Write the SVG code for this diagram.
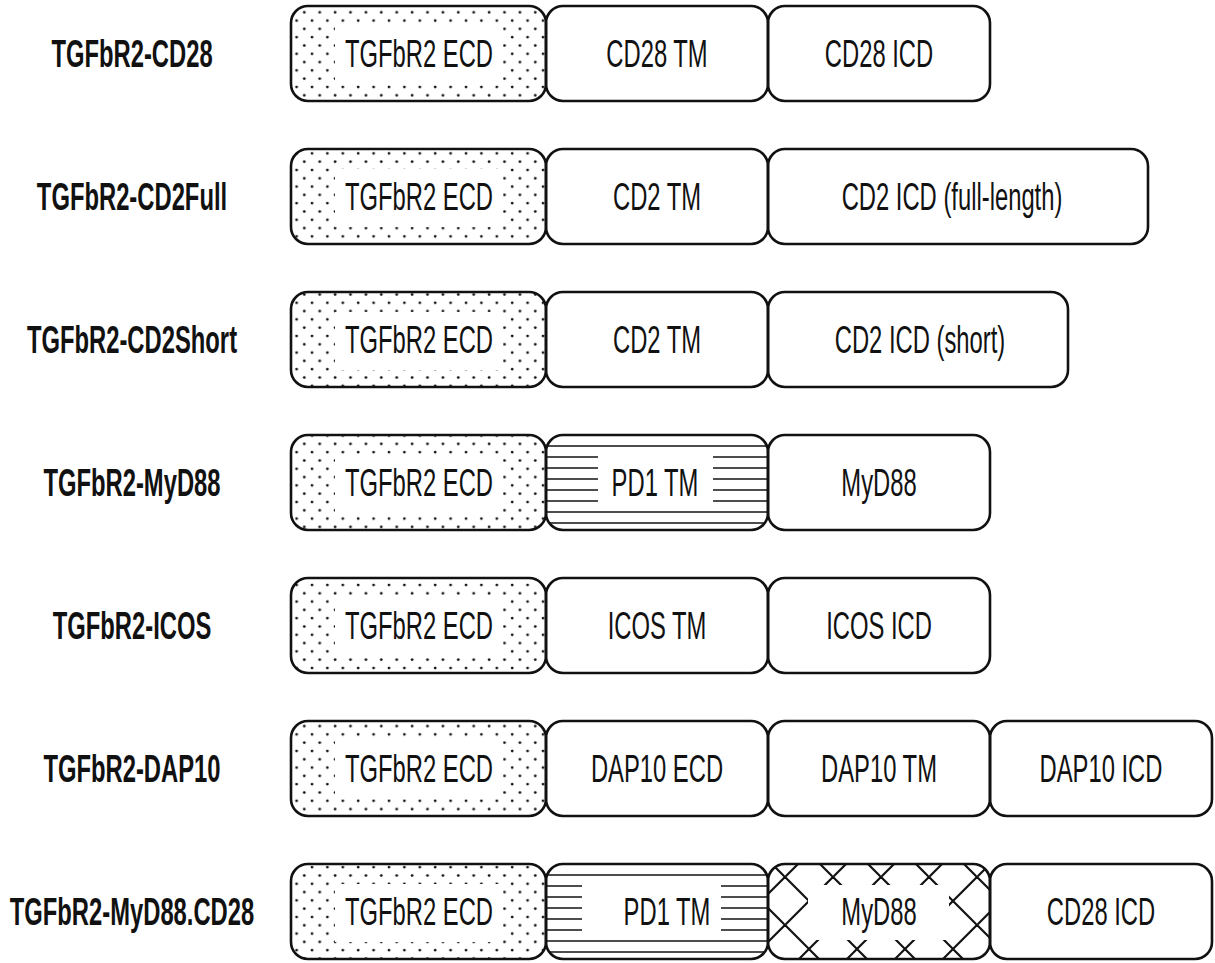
<svg xmlns="http://www.w3.org/2000/svg" width="1215" height="963" viewBox="0 0 1215 963">
<defs>
<pattern id="dots" patternUnits="userSpaceOnUse" width="15.4" height="16.6">
<circle cx="4" cy="4" r="1.4" fill="#111"/>
<circle cx="11.7" cy="12.3" r="1.4" fill="#111"/>
</pattern>
<pattern id="hlines" patternUnits="userSpaceOnUse" width="20" height="11">
<line x1="0" y1="6" x2="20" y2="6" stroke="#111" stroke-width="1.5"/>
</pattern>
<pattern id="cross" patternUnits="userSpaceOnUse" x="785" y="877" width="48" height="48">
<line x1="-2" y1="-2" x2="50" y2="50" stroke="#111" stroke-width="2.2"/>
<line x1="50" y1="-2" x2="-2" y2="50" stroke="#111" stroke-width="2.2"/>
</pattern>
</defs>
<style>
.box{fill:none;stroke:#111;stroke-width:2.6}
.clear{fill:#fff;stroke:none}
.t{font-family:"Liberation Sans",Arial,sans-serif;font-size:39px;fill:#111;text-anchor:middle}
.lbl{font-family:"Liberation Sans",Arial,sans-serif;font-size:39px;font-weight:bold;fill:#111;text-anchor:middle}
</style>
<rect width="1215" height="963" fill="#fff"/>
<g id="connectors"/>

<!-- Row 1 -->
<g id="row1-label"><text class="lbl" transform="translate(132,67) scale(0.61,1)">TGFbR2-CD28</text></g>
<g id="row1-ecd"><rect x="291" y="6" width="255" height="95" rx="17" fill="url(#dots)"/><rect class="clear" x="335" y="26" width="168" height="58"/><text class="t" transform="translate(419,67) scale(0.61,1)">TGFbR2 ECD</text><rect class="box" x="291" y="6" width="255" height="95" rx="17"/></g>
<g id="row1-tm"><rect class="box" x="546" y="6" width="222" height="95" rx="17"/><text class="t" transform="translate(657,67) scale(0.61,1)">CD28 TM</text></g>
<g id="row1-icd"><rect class="box" x="768" y="6" width="222" height="95" rx="17"/><text class="t" transform="translate(879,67) scale(0.61,1)">CD28 ICD</text></g>

<!-- Row 2 -->
<g id="row2-label"><text class="lbl" transform="translate(132,210) scale(0.61,1)">TGFbR2-CD2Full</text></g>
<g id="row2-ecd"><rect x="291" y="149" width="255" height="95" rx="17" fill="url(#dots)"/><rect class="clear" x="335" y="169" width="168" height="58"/><text class="t" transform="translate(419,210) scale(0.61,1)">TGFbR2 ECD</text><rect class="box" x="291" y="149" width="255" height="95" rx="17"/></g>
<g id="row2-tm"><rect class="box" x="546" y="149" width="222" height="95" rx="17"/><text class="t" transform="translate(657,210) scale(0.61,1)">CD2 TM</text></g>
<g id="row2-icd"><rect class="box" x="768" y="149" width="380" height="95" rx="17"/><text class="t" transform="translate(952,210) scale(0.61,1)">CD2 ICD (full-length)</text></g>

<!-- Row 3 -->
<g id="row3-label"><text class="lbl" transform="translate(132,353) scale(0.61,1)">TGFbR2-CD2Short</text></g>
<g id="row3-ecd"><rect x="291" y="292" width="255" height="95" rx="17" fill="url(#dots)"/><rect class="clear" x="335" y="312" width="168" height="58"/><text class="t" transform="translate(419,353) scale(0.61,1)">TGFbR2 ECD</text><rect class="box" x="291" y="292" width="255" height="95" rx="17"/></g>
<g id="row3-tm"><rect class="box" x="546" y="292" width="222" height="95" rx="17"/><text class="t" transform="translate(657,353) scale(0.61,1)">CD2 TM</text></g>
<g id="row3-icd"><rect class="box" x="768" y="292" width="300" height="95" rx="17"/><text class="t" transform="translate(920,353) scale(0.61,1)">CD2 ICD (short)</text></g>

<!-- Row 4 -->
<g id="row4-label"><text class="lbl" transform="translate(132,496) scale(0.61,1)">TGFbR2-MyD88</text></g>
<g id="row4-ecd"><rect x="291" y="435" width="255" height="95" rx="17" fill="url(#dots)"/><rect class="clear" x="335" y="455" width="168" height="58"/><text class="t" transform="translate(419,496) scale(0.61,1)">TGFbR2 ECD</text><rect class="box" x="291" y="435" width="255" height="95" rx="17"/></g>
<g id="row4-tm"><rect x="546" y="435" width="222" height="95" rx="17" fill="url(#hlines)"/><rect class="clear" x="598" y="452" width="115" height="53"/><text class="t" transform="translate(655,496) scale(0.61,1)">PD1 TM</text><rect class="box" x="546" y="435" width="222" height="95" rx="17"/></g>
<g id="row4-icd"><rect class="box" x="768" y="435" width="222" height="95" rx="17"/><text class="t" transform="translate(879,496) scale(0.61,1)">MyD88</text></g>

<!-- Row 5 -->
<g id="row5-label"><text class="lbl" transform="translate(132,639) scale(0.61,1)">TGFbR2-ICOS</text></g>
<g id="row5-ecd"><rect x="291" y="578" width="255" height="95" rx="17" fill="url(#dots)"/><rect class="clear" x="335" y="598" width="168" height="58"/><text class="t" transform="translate(419,639) scale(0.61,1)">TGFbR2 ECD</text><rect class="box" x="291" y="578" width="255" height="95" rx="17"/></g>
<g id="row5-tm"><rect class="box" x="546" y="578" width="222" height="95" rx="17"/><text class="t" transform="translate(657,639) scale(0.61,1)">ICOS TM</text></g>
<g id="row5-icd"><rect class="box" x="768" y="578" width="222" height="95" rx="17"/><text class="t" transform="translate(879,639) scale(0.61,1)">ICOS ICD</text></g>

<!-- Row 6 -->
<g id="row6-label"><text class="lbl" transform="translate(132,782) scale(0.61,1)">TGFbR2-DAP10</text></g>
<g id="row6-ecd"><rect x="291" y="721" width="255" height="95" rx="17" fill="url(#dots)"/><rect class="clear" x="335" y="741" width="168" height="58"/><text class="t" transform="translate(419,782) scale(0.61,1)">TGFbR2 ECD</text><rect class="box" x="291" y="721" width="255" height="95" rx="17"/></g>
<g id="row6-dap-ecd"><rect class="box" x="546" y="721" width="222" height="95" rx="17"/><text class="t" transform="translate(657,782) scale(0.61,1)">DAP10 ECD</text></g>
<g id="row6-tm"><rect class="box" x="768" y="721" width="222" height="95" rx="17"/><text class="t" transform="translate(879,782) scale(0.61,1)">DAP10 TM</text></g>
<g id="row6-icd"><rect class="box" x="990" y="721" width="222" height="95" rx="17"/><text class="t" transform="translate(1101,782) scale(0.61,1)">DAP10 ICD</text></g>

<!-- Row 7 -->
<g id="row7-label"><text class="lbl" transform="translate(132,925) scale(0.61,1)">TGFbR2-MyD88.CD28</text></g>
<g id="row7-ecd"><rect x="291" y="864" width="255" height="95" rx="17" fill="url(#dots)"/><rect class="clear" x="335" y="884" width="168" height="58"/><text class="t" transform="translate(419,925) scale(0.61,1)">TGFbR2 ECD</text><rect class="box" x="291" y="864" width="255" height="95" rx="17"/></g>
<g id="row7-tm"><rect x="546" y="864" width="222" height="95" rx="17" fill="url(#hlines)"/><rect class="clear" x="582" y="880" width="139" height="57"/><text class="t" transform="translate(667,925) scale(0.61,1)">PD1 TM</text><rect class="box" x="546" y="864" width="222" height="95" rx="17"/></g>
<g id="row7-myd88"><rect x="768" y="864" width="222" height="95" rx="17" fill="url(#cross)"/><rect class="clear" x="808" y="885" width="141" height="55"/><text class="t" transform="translate(879,925) scale(0.61,1)">MyD88</text><rect class="box" x="768" y="864" width="222" height="95" rx="17"/></g>
<g id="row7-icd"><rect class="box" x="990" y="864" width="222" height="95" rx="17"/><text class="t" transform="translate(1101,925) scale(0.61,1)">CD28 ICD</text></g>
</svg>
